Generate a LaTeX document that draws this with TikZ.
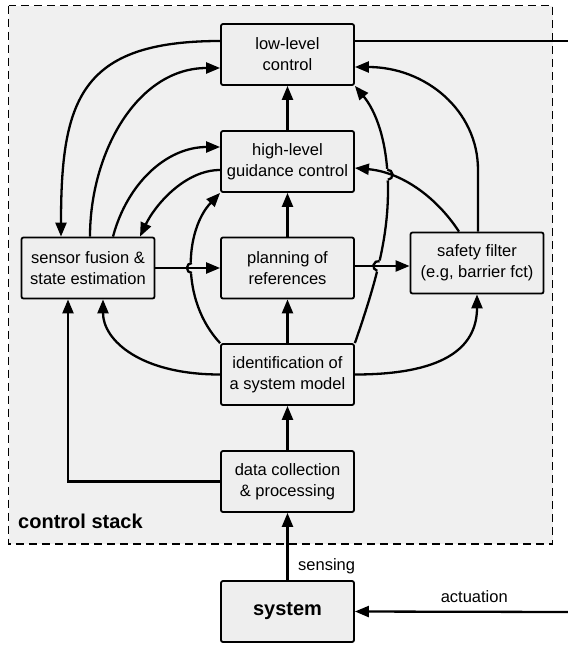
\documentclass[tikz,border=0pt]{standalone}
\usepackage{fontspec}
\setmainfont{Liberation Sans}
\usetikzlibrary{arrows.meta,intersections,calc}
\definecolor{stackbg}{RGB}{240,240,240}
\definecolor{boxbg}{RGB}{238,238,238}
\pgfdeclarelayer{front}
\pgfsetlayers{main,front}
\begin{document}
\begin{tikzpicture}[x=1pt,y=-1pt,
  blk/.style={draw=black, line width=1.8pt, rounded corners=2pt, fill=boxbg,
    minimum width=133pt, minimum height=61pt, inner sep=0pt, align=center,
    font=\fontsize{16.5}{21}\selectfont},
  con/.style={line width=2.3pt, -{Triangle[length=14pt,width=11pt]}},
  plain/.style={line width=2.3pt},
  lab/.style={inner sep=0pt, font=\fontsize{16.5}{21}\selectfont},
  ]
\useasboundingbox (0,0) rectangle (568,646);
% container
\draw[dash pattern=on 8pt off 5pt, line width=1.3pt, fill=stackbg] (8.5,5.5) rectangle (552.5,544);
\node[anchor=base west, inner sep=0pt, font=\bfseries\fontsize{20}{24}\selectfont] (lbl) at (18,528) {control stack};

% blocks
\node[blk] (ll) at (287.5,54.5) {low-level\\control};
\node[blk] (hl) at (287.5,161.5) {high-level\\guidance control};
\node[blk] (sf) at (88,268) {sensor fusion \&\\state estimation};
\node[blk] (pr) at (287.5,268) {planning of\\references};
\node[blk] (saf) at (477,263) {safety filter\\(e.g, barrier fct)};
\node[blk] (id) at (287.5,374.5) {identification of\\a system model};
\node[blk] (dc) at (287.5,481.5) {data collection\\\& processing};
\node[blk, font=\bfseries\fontsize{20}{24}\selectfont] (sys) at (287.5,611.5) {system};

\coordinate (outR) at (568,41);
\coordinate (inR) at (568,612);

% connectors
\draw[con] (ll.west |- 0,41) .. controls (80,41) and (61,100) .. (sf.north -| 61,0);
\draw[con] (sf.north -| 90,0) .. controls (90,153) and (137,68) .. (ll.west |- 0,68);
\draw[con] (sf.north -| 113,0) .. controls (127,184) and (166,147) .. (hl.west |- 0,147);
\draw[con] (hl.west |- 0,170) .. controls (185,170) and (155,205) .. (sf.north -| 140,0);
\draw[con, name path global=c6] (id.north west) .. controls (180,300) and (185,230) .. (hl.south west);
\draw[con] (pr.north) -- (hl.south);
\draw[con] (hl.north) -- (ll.south);
\draw[con] (id.north) -- (pr.south);
\draw[con] (dc.north) -- (id.south);
\draw[con] (sys.north) -- node[lab, pos=0.145, anchor=base west, xshift=9.5pt] {sensing} (dc.south);
\draw[con] (dc.west) -| (sf.south -| 68,0);
\draw[con] (id.west) .. controls (140,374.5) and (103,340) .. (sf.south -| 103,0);
\draw[con] (id.east) .. controls (440,374.5) and (477,350) .. (saf.south);
\draw[con, name path global=c15] (id.north east) .. controls (375,285) and (388,240) .. (388,190)
   .. controls (388,140) and (375,110) .. (ll.south east);
\draw[con] (saf.north -| 478,0) -- (478,170) .. controls (478,110) and (425,67) .. (ll.east |- 0,67);
\draw[plain] (ll.east |- 0,41) -- (outR);
\draw[con] (inR) -- node[lab, pos=0.44, anchor=base, yshift=9pt] {actuation} (sys.east);

\begin{pgfonlayer}{front}
\draw[con, name path global=c5] (sf.east) -- (pr.west);
\draw[con, name path global=c16] (pr.east |- 0,266) -- (saf.west |- 0,266);
\draw[con, name path global=c17] (saf.north -| 459,0) .. controls (435,195) and (400,172) .. (hl.east |- 0,168);
\end{pgfonlayer}

% line hops
\path[name intersections={of=c6 and c5, by=h1}];
\path[name intersections={of=c15 and c16, by=h2}];
\path[name intersections={of=c15 and c17, by=h3}];
\fill[stackbg] (h1) circle[radius=5.8pt];
\draw[plain] ([shift={(90:5pt)}]h1) arc[start angle=90, end angle=270, radius=5pt];
\fill[stackbg] (h2) circle[radius=5.8pt];
\draw[plain] ([shift={(76:5pt)}]h2) arc[start angle=76, end angle=256, radius=5pt];
\fill[stackbg] (h3) circle[radius=5.8pt];
\draw[plain] ([shift={(94:5pt)}]h3) arc[start angle=94, end angle=-86, radius=5pt];
\end{tikzpicture}
\end{document}
